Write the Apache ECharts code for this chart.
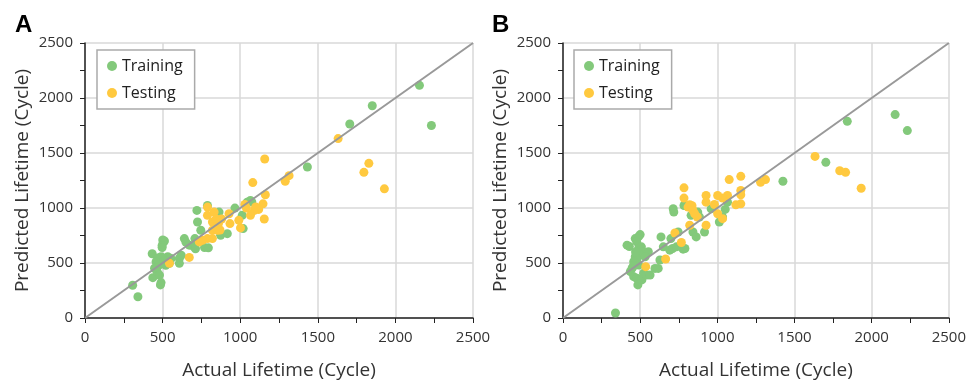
<!DOCTYPE html>
<html>
<head>
<meta charset="utf-8">
<script src="https://cdn.jsdelivr.net/npm/echarts@6/dist/echarts.min.js"></script>
<style>
  html, body { margin: 0; padding: 0; background: #fff; }
  #chart { width: 969px; height: 385px; }
</style>
</head>
<body>
<div id="chart"></div>
<script>
// panel A - training points [actual, predicted]
const trainA = [
  [2155, 2115], [2232, 1750], [1851, 1930], [1706, 1764], [1433, 1373],
  [307, 298], [341, 193], [433, 584], [501, 710], [512, 700], [497, 660],
  [497, 641], [490, 557], [470, 545], [458, 512], [475, 480], [448, 452],
  [437, 367], [490, 322], [486, 301], [465, 420], [458, 452], [480, 390],
  [533, 557], [543, 497], [555, 540], [608, 542], [608, 497], [620, 570],
  [640, 722], [650, 690], [672, 662], [700, 650], [708, 722], [712, 630],
  [725, 873], [721, 978], [746, 798], [770, 640], [789, 1023], [795, 638],
  [864, 963], [874, 752], [917, 767], [966, 999], [1013, 933], [1019, 813],
  [1045, 1053], [1066, 1068], [1075, 1055], [510, 520], [520, 480]
]
// panel A - testing points
const testA = [
  [1631, 1631], [1158, 1445], [1315, 1294], [1290, 1243], [1829, 1406],
  [1797, 1324], [1929, 1174], [1081, 1231], [1162, 1120], [1147, 1038],
  [1155, 900], [1119, 987], [1092, 978], [1066, 933], [1030, 1032],
  [1002, 819], [991, 888], [934, 858], [928, 948], [880, 900], [789, 1008],
  [789, 933], [832, 963], [821, 873], [821, 798], [845, 900], [853, 798],
  [870, 800], [860, 860], [789, 722], [757, 707], [736, 692], [821, 722],
  [672, 551], [544, 497], [1040, 1000], [1100, 1010]
]
// panel B - training points
const trainB = [
  [2152, 1849], [2231, 1704], [1842, 1788], [1703, 1415], [1425, 1243],
  [340, 45], [415, 662], [430, 650], [468, 722], [490, 740], [500, 758],
  [478, 692], [490, 632], [508, 647], [517, 602], [500, 572], [468, 557],
  [478, 527], [458, 512], [490, 482], [447, 451], [436, 421], [458, 376],
  [478, 361], [485, 301], [511, 346], [522, 406], [543, 391], [553, 602],
  [532, 557], [564, 391], [596, 451], [617, 451], [628, 527], [635, 737],
  [650, 647], [692, 617], [699, 722], [714, 993], [718, 963], [710, 632],
  [746, 782], [735, 647], [778, 626], [790, 632], [784, 1023], [830, 933],
  [842, 782], [863, 737], [873, 963], [884, 918], [917, 782], [960, 993],
  [1013, 873], [1034, 918], [1051, 987], [1066, 1053], [470, 600], [455, 470]
]
// panel B - testing points
const testB = [
  [1633, 1469], [1793, 1339], [1831, 1324], [1932, 1180], [1312, 1258],
  [1280, 1234], [1152, 1288], [1077, 1258], [1152, 1159], [1152, 1120],
  [1152, 1038], [1120, 1029], [1066, 1114], [1034, 1090], [1002, 1114],
  [981, 1032], [1002, 948], [1034, 903], [927, 1053], [927, 1114],
  [927, 843], [784, 1183], [784, 1090], [810, 1008], [821, 1030],
  [836, 1020], [842, 978], [853, 948], [870, 918], [821, 843], [767, 686],
  [725, 773], [665, 536], [536, 467]
]
const diagonal = [[0, 0], [2500, 2500]]
const axisMax = 2500
const axisStep = 500

const green = '#83c97b'
const yellow = '#ffc93f'
const font = 'Open Sans'

function xAxis (gridIndex) {
  return {
    gridIndex: gridIndex,
    type: 'value',
    min: 0,
    max: axisMax,
    interval: axisStep,
    name: 'Actual Lifetime (Cycle)',
    nameLocation: 'middle',
    nameGap: 43,
    nameTextStyle: { fontFamily: font, fontSize: 19, color: '#333' },
    axisLine: { show: true, onZero: false, lineStyle: { color: '#222', width: 1.5 } },
    axisTick: { show: true, length: 5, lineStyle: { color: '#222' } },
    minorTick: { show: true, splitNumber: 2, length: 5, lineStyle: { color: '#222' } },
    axisLabel: { fontFamily: font, fontSize: 15, color: '#333', margin: 12, formatter: v => String(v) },
    splitLine: { show: true, lineStyle: { color: '#d9d9d9', width: 1.5 } }
  }
}

function yAxis (gridIndex) {
  return {
    gridIndex: gridIndex,
    type: 'value',
    min: 0,
    max: axisMax,
    interval: axisStep,
    name: 'Predicted Lifetime (Cycle)',
    nameLocation: 'middle',
    nameGap: 53,
    nameTextStyle: { fontFamily: font, fontSize: 19, color: '#333' },
    axisLine: { show: true, onZero: false, lineStyle: { color: '#222', width: 1.5 } },
    axisTick: { show: true, length: 5, lineStyle: { color: '#222' } },
    minorTick: { show: true, splitNumber: 2, length: 5, lineStyle: { color: '#222' } },
    axisLabel: { fontFamily: font, fontSize: 15, color: '#333', margin: 12, formatter: v => String(v) },
    splitLine: { show: true, lineStyle: { color: '#d9d9d9', width: 1.5 } }
  }
}

function legend (left) {
  return {
    data: ['Training', 'Testing'],
    orient: 'vertical',
    left: left,
    top: 50,
    itemWidth: 10,
    itemHeight: 10,
    itemGap: 11,
    padding: [8, 12, 8, 10],
    borderColor: '#aaa',
    borderWidth: 1.5,
    backgroundColor: '#fff',
    textStyle: { fontFamily: font, fontSize: 16, color: '#222' }
  }
}

function scatter (name, data, color, idx) {
  return {
    name: name,
    type: 'scatter',
    xAxisIndex: idx,
    yAxisIndex: idx,
    data: data,
    symbolSize: 9,
    itemStyle: { color: color, opacity: 1 },
    z: 2
  }
}

function diag (idx) {
  return {
    type: 'line',
    xAxisIndex: idx,
    yAxisIndex: idx,
    data: diagonal,
    symbol: 'none',
    silent: true,
    lineStyle: { color: '#999', width: 2 },
    z: 3
  }
}

const myChart = echarts.init(document.getElementById('chart'))
const option = {
  animation: false,
  title: [
    { text: 'A', left: 10, top: 8, textStyle: { fontFamily: 'Liberation Sans', fontSize: 24, fontWeight: 'bold', color: '#000' } },
    { text: 'B', left: 487, top: 8, textStyle: { fontFamily: 'Liberation Sans', fontSize: 24, fontWeight: 'bold', color: '#000' } }
  ],
  legend: [legend(97), legend(574)],
  grid: [
    { left: 85, right: 496, top: 43, bottom: 64 },
    { left: 563, right: 18, top: 43, bottom: 64 }
  ],
  xAxis: [xAxis(0), xAxis(1)],
  yAxis: [yAxis(0), yAxis(1)],
  series: [
    scatter('Training', trainA, green, 0),
    scatter('Testing', testA, yellow, 0),
    diag(0),
    scatter('Training', trainB, green, 1),
    scatter('Testing', testB, yellow, 1),
    diag(1)
  ]
}
myChart.setOption(option)
</script>
</body>
</html>
